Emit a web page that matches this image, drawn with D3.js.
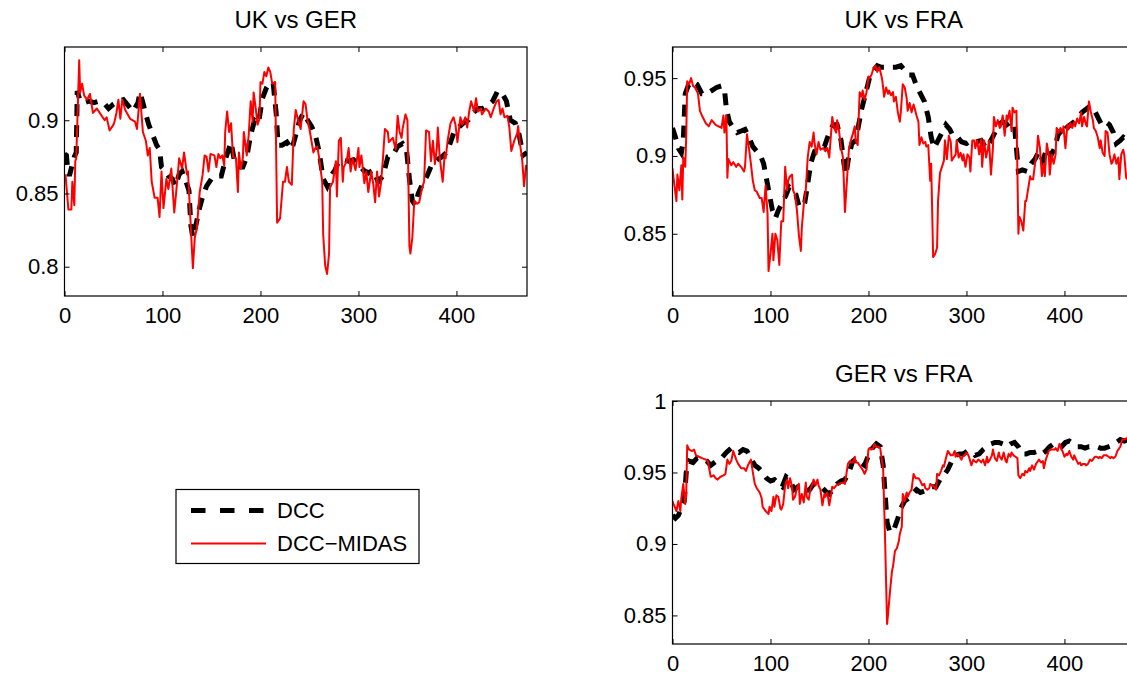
<!DOCTYPE html>
<html>
<head>
<meta charset="utf-8">
<script src="https://cdn.jsdelivr.net/npm/d3@7"></script>
<style>
  body { margin: 0; background: #fff; }
  svg { display: block; font-family: "Liberation Sans", Arial, Helvetica, sans-serif; }
</style>
</head>
<body>
<svg id="chart"></svg>
<script>
const xTicks = [0, 100, 200, 300, 400];
const xRange = [0, 472];

const ukGerRange = [0.78, 0.95];
const ukGerTicks = [0.8, 0.85, 0.9];
const ukGerDcc = [[0,.877],[2,.876],[3,.868],[5,.862],[8,.87],[10,.875],[12,.878],[13,.92],[16,.913],[20,.912],[25,.913],[30,.912],[35,.913],[40,.912],[45,.908],[50,.911],[55,.913],[60,.914],[65,.91],[70,.906],[75,.912],[77,.919],[80,.912],[83,.904],[86,.897],[90,.89],[94,.883],[97,.88],[99,.868],[102,.866],[106,.862],[110,.86],[113,.855],[117,.863],[120,.865],[124,.858],[127,.852],[129,.828],[131,.82],[134,.828],[137,.838],[141,.848],[145,.855],[150,.86],[155,.862],[160,.862],[165,.875],[170,.885],[174,.87],[178,.868],[182,.868],[186,.875],[190,.89],[194,.9],[198,.898],[202,.915],[206,.922],[210,.926],[213,.925],[216,.905],[218,.883],[222,.883],[227,.885],[232,.88],[236,.89],[240,.9],[244,.905],[248,.9],[252,.896],[256,.89],[260,.878],[264,.86],[268,.855],[272,.862],[276,.866],[280,.872],[285,.873],[290,.872],[295,.873],[300,.87],[305,.866],[310,.864],[315,.866],[320,.858],[325,.862],[330,.875],[335,.876],[340,.882],[345,.884],[349,.88],[352,.86],[355,.845],[358,.842],[361,.85],[365,.856],[370,.862],[375,.87],[380,.873],[385,.875],[390,.878],[394,.885],[398,.893],[402,.895],[407,.898],[412,.9],[417,.905],[422,.908],[427,.908],[432,.91],[437,.913],[442,.92],[447,.918],[451,.913],[455,.9],[460,.898],[464,.89],[468,.876],[472,.878]];
const ukGerMidas = [[1,.863],[4,.839],[7,.839],[8,.858],[10,.842],[11,.872],[12,.874],[15,.941],[16,.919],[18,.925],[20,.917],[23,.914],[26,.918],[29,.905],[33,.908],[38,.903],[41,.9],[43,.902],[46,.893],[50,.897],[51,.899],[53,.905],[55,.914],[57,.901],[59,.914],[62,.907],[67,.901],[72,.899],[74,.894],[77,.918],[80,.892],[83,.886],[85,.876],[87,.881],[89,.858],[92,.847],[95,.847],[97,.834],[99,.865],[101,.84],[104,.86],[106,.853],[109,.867],[112,.837],[114,.851],[117,.874],[120,.867],[122,.878],[125,.863],[126,.865],[129,.826],[131,.799],[133,.82],[135,.826],[138,.851],[141,.863],[143,.876],[145,.875],[147,.865],[149,.877],[153,.876],[155,.868],[157,.877],[159,.874],[161,.876],[163,.869],[164,.892],[166,.906],[168,.892],[170,.898],[172,.875],[175,.874],[177,.851],[178,.878],[180,.867],[182,.874],[183,.892],[186,.876],[188,.89],[190,.913],[192,.899],[193,.919],[195,.909],[197,.897],[199,.901],[200,.926],[202,.925],[204,.933],[206,.93],[208,.936],[210,.933],[212,.925],[215,.926],[217,.83],[220,.833],[223,.858],[225,.858],[227,.868],[229,.858],[232,.856],[234,.894],[236,.907],[238,.901],[241,.894],[244,.913],[246,.911],[248,.9],[250,.894],[252,.886],[254,.878],[256,.881],[258,.882],[260,.874],[263,.858],[264,.822],[266,.801],[268,.795],[270,.809],[271,.854],[274,.858],[277,.872],[278,.848],[280,.886],[282,.888],[284,.858],[285,.868],[288,.872],[290,.881],[292,.865],[294,.874],[297,.866],[300,.881],[301,.868],[303,.876],[306,.857],[308,.865],[310,.851],[313,.865],[315,.857],[317,.844],[319,.865],[321,.848],[323,.857],[325,.874],[327,.894],[330,.892],[331,.885],[335,.888],[338,.88],[340,.903],[342,.892],[344,.888],[345,.894],[348,.904],[350,.9],[352,.814],[353,.809],[355,.82],[357,.845],[360,.843],[362,.844],[365,.854],[367,.858],[369,.893],[372,.892],[374,.872],[376,.886],[378,.87],[380,.881],[381,.895],[383,.874],[386,.858],[388,.877],[389,.874],[391,.886],[394,.898],[397,.902],[399,.897],[401,.885],[404,.902],[406,.897],[409,.902],[411,.895],[413,.906],[415,.913],[418,.906],[420,.915],[422,.906],[425,.908],[426,.904],[430,.908],[433,.906],[435,.902],[438,.908],[441,.913],[443,.914],[445,.904],[447,.908],[449,.902],[452,.903],[454,.895],[456,.879],[459,.886],[462,.891],[463,.896],[465,.883],[467,.874],[469,.855],[471,.869],[472,.866]];

const ukFraRange = [0.81, 0.97];
const ukFraTicks = [0.85, 0.9, 0.95];
const ukFraDcc = [[0,.918],[3,.912],[6,.905],[9,.902],[11,.91],[13,.94],[16,.945],[20,.948],[25,.946],[30,.94],[35,.94],[40,.942],[45,.944],[50,.945],[53,.943],[55,.93],[58,.922],[62,.918],[66,.915],[70,.916],[74,.917],[78,.912],[82,.906],[86,.903],[90,.9],[93,.895],[96,.885],[99,.875],[102,.865],[105,.86],[108,.865],[112,.87],[116,.875],[119,.88],[123,.877],[126,.875],[129,.868],[132,.867],[135,.87],[138,.882],[141,.895],[145,.903],[150,.905],[155,.906],[160,.915],[164,.92],[168,.92],[172,.91],[175,.895],[177,.888],[180,.9],[183,.908],[187,.91],[190,.92],[193,.93],[197,.94],[201,.95],[205,.955],[209,.958],[213,.957],[218,.957],[223,.957],[228,.957],[233,.958],[237,.955],[241,.952],[245,.952],[249,.945],[253,.94],[257,.935],[261,.925],[264,.912],[267,.905],[271,.91],[275,.915],[279,.92],[283,.917],[287,.912],[291,.912],[295,.909],[300,.908],[305,.91],[310,.909],[315,.91],[320,.905],[325,.91],[329,.915],[333,.92],[337,.922],[341,.92],[345,.922],[349,.92],[351,.905],[353,.89],[357,.891],[362,.89],[366,.895],[370,.898],[374,.903],[378,.897],[382,.905],[386,.9],[390,.905],[394,.915],[398,.913],[402,.918],[406,.92],[410,.922],[414,.925],[418,.928],[422,.93],[426,.932],[430,.93],[434,.925],[438,.92],[442,.922],[446,.92],[450,.915],[453,.908],[457,.91],[460,.912],[464,.91],[468,.905],[472,.905]];
const ukFraMidas = [[0,.892],[1,.886],[4,.871],[5,.888],[7,.878],[9,.894],[10,.872],[11,.899],[13,.893],[14,.912],[15,.948],[17,.946],[19,.95],[21,.945],[23,.944],[26,.94],[28,.929],[30,.926],[34,.921],[37,.919],[40,.923],[44,.92],[47,.919],[50,.918],[52,.926],[53,.915],[55,.926],[56,.886],[57,.898],[60,.894],[62,.896],[65,.893],[67,.895],[70,.893],[73,.89],[74,.893],[76,.914],[78,.905],[80,.895],[82,.884],[84,.878],[86,.877],[89,.873],[91,.873],[93,.864],[95,.881],[97,.863],[98,.826],[100,.837],[102,.85],[103,.833],[105,.85],[107,.846],[109,.83],[111,.858],[113,.858],[115,.893],[117,.878],[118,.884],[120,.887],[122,.888],[123,.878],[125,.875],[127,.865],[129,.849],[131,.839],[132,.854],[134,.869],[136,.878],[138,.899],[140,.909],[142,.906],[144,.915],[145,.908],[147,.901],[149,.909],[151,.904],[154,.905],[156,.903],[158,.905],[160,.899],[162,.916],[163,.925],[165,.918],[167,.915],[168,.923],[170,.916],[172,.905],[174,.899],[176,.864],[178,.884],[180,.904],[182,.91],[184,.914],[186,.919],[187,.91],[189,.907],[191,.941],[193,.938],[194,.942],[196,.936],[198,.941],[200,.951],[201,.95],[203,.952],[205,.956],[207,.958],[209,.954],[211,.957],[213,.952],[214,.949],[216,.938],[218,.944],[220,.94],[221,.942],[223,.939],[225,.941],[226,.935],[228,.938],[230,.928],[232,.922],[233,.928],[235,.946],[237,.944],[239,.937],[240,.929],[242,.934],[244,.928],[246,.933],[247,.931],[249,.926],[251,.922],[252,.907],[254,.912],[256,.908],[258,.909],[259,.906],[261,.907],[263,.884],[264,.895],[266,.835],[268,.837],[270,.841],[271,.871],[273,.889],[275,.893],[277,.897],[278,.91],[280,.898],[282,.913],[284,.909],[285,.897],[287,.899],[289,.901],[290,.91],[292,.899],[294,.902],[296,.897],[297,.901],[299,.893],[301,.901],[303,.899],[304,.89],[306,.91],[308,.91],[309,.905],[311,.91],[313,.901],[315,.911],[316,.893],[318,.91],[320,.899],[322,.905],[323,.91],[325,.888],[327,.905],[328,.925],[330,.919],[332,.923],[334,.918],[335,.919],[337,.926],[339,.913],[341,.926],[342,.923],[344,.929],[346,.916],[347,.931],[349,.928],[351,.929],[353,.85],[354,.861],[356,.858],[358,.852],[360,.871],[361,.871],[363,.879],[365,.887],[366,.885],[368,.885],[370,.895],[372,.903],[373,.913],[375,.905],[377,.887],[379,.895],[380,.887],[382,.908],[384,.901],[385,.888],[387,.901],[389,.895],[391,.901],[392,.918],[394,.915],[396,.918],[398,.915],[399,.919],[401,.905],[403,.92],[404,.917],[406,.921],[408,.918],[410,.922],[411,.919],[413,.924],[415,.921],[417,.928],[418,.919],[420,.925],[422,.92],[423,.919],[425,.935],[427,.928],[429,.923],[430,.918],[432,.916],[434,.912],[436,.905],[437,.91],[439,.902],[441,.9],[442,.916],[444,.915],[446,.901],[448,.895],[449,.896],[451,.901],[453,.895],[455,.899],[456,.885],[458,.901],[460,.904],[461,.901],[463,.886],[466,.884],[470,.89],[472,.892]];

const gerFraRange = [0.83, 1];
const gerFraTicks = [0.85, 0.9, 0.95, 1];
const gerFraDcc = [[0,.92],[3,.918],[6,.92],[9,.925],[12,.93],[14,.95],[17,.958],[21,.957],[25,.96],[30,.96],[35,.958],[39,.955],[45,.958],[50,.96],[55,.964],[60,.967],[64,.965],[68,.964],[72,.966],[76,.965],[80,.96],[84,.955],[88,.953],[92,.95],[96,.946],[100,.944],[104,.945],[108,.942],[112,.94],[116,.947],[120,.945],[124,.938],[128,.94],[132,.94],[136,.937],[140,.938],[144,.942],[148,.942],[152,.94],[156,.937],[160,.935],[164,.938],[168,.942],[172,.944],[176,.945],[180,.95],[184,.958],[188,.96],[192,.957],[196,.955],[200,.962],[204,.967],[208,.97],[212,.968],[215,.955],[217,.935],[219,.915],[222,.908],[226,.91],[230,.918],[233,.925],[237,.93],[241,.932],[245,.935],[249,.938],[253,.936],[257,.937],[261,.938],[265,.94],[269,.94],[273,.945],[277,.948],[281,.952],[285,.958],[289,.962],[293,.963],[297,.963],[301,.965],[305,.965],[309,.962],[313,.963],[317,.966],[321,.968],[325,.97],[329,.971],[333,.971],[337,.97],[341,.968],[345,.97],[349,.971],[353,.968],[357,.963],[361,.963],[365,.964],[369,.964],[373,.965],[377,.963],[381,.965],[385,.968],[389,.97],[393,.969],[397,.968],[401,.971],[405,.972],[409,.97],[413,.968],[417,.968],[421,.967],[425,.968],[429,.968],[433,.968],[437,.967],[441,.967],[445,.968],[449,.969],[453,.971],[457,.973],[461,.972],[465,.973],[472,.973]];
const gerFraMidas = [[0,.93],[1,.928],[4,.923],[6,.93],[8,.923],[9,.932],[11,.942],[13,.928],[14,.935],[15,.969],[17,.966],[20,.965],[22,.966],[24,.962],[27,.961],[30,.96],[34,.959],[36,.958],[39,.947],[42,.948],[44,.946],[46,.945],[49,.947],[52,.948],[54,.949],[56,.959],[58,.956],[60,.958],[62,.965],[65,.959],[67,.956],[70,.953],[73,.953],[75,.951],[77,.955],[80,.959],[82,.95],[84,.942],[86,.939],[89,.936],[91,.932],[92,.926],[95,.923],[98,.921],[99,.926],[101,.923],[103,.933],[104,.926],[106,.934],[108,.933],[110,.925],[111,.924],[113,.928],[115,.941],[117,.945],[118,.939],[120,.946],[122,.94],[123,.931],[125,.933],[127,.939],[129,.942],[130,.928],[132,.935],[134,.929],[136,.943],[137,.933],[139,.931],[141,.939],[142,.94],[144,.945],[146,.941],[148,.945],[149,.941],[151,.938],[153,.927],[155,.935],[156,.933],[158,.936],[160,.927],[162,.935],[163,.94],[165,.939],[167,.941],[170,.942],[174,.943],[176,.942],[179,.956],[181,.958],[182,.957],[184,.957],[186,.961],[187,.957],[189,.957],[191,.955],[193,.953],[194,.952],[196,.949],[198,.952],[200,.966],[201,.967],[203,.966],[205,.967],[206,.97],[208,.968],[210,.968],[212,.967],[213,.962],[215,.952],[217,.902],[219,.844],[220,.851],[222,.867],[224,.881],[225,.884],[227,.895],[229,.897],[231,.902],[232,.907],[234,.912],[235,.935],[237,.93],[239,.936],[240,.933],[242,.936],[244,.938],[246,.949],[248,.946],[250,.946],[251,.946],[253,.944],[255,.941],[257,.942],[258,.939],[260,.938],[262,.939],[263,.942],[265,.941],[267,.94],[269,.938],[270,.949],[272,.948],[274,.951],[276,.955],[277,.954],[279,.96],[281,.965],[283,.963],[284,.962],[286,.962],[288,.965],[289,.961],[291,.963],[293,.961],[295,.959],[296,.961],[298,.962],[300,.964],[302,.962],[303,.96],[305,.955],[307,.959],[308,.958],[310,.957],[312,.959],[314,.958],[315,.957],[317,.959],[319,.955],[321,.961],[322,.957],[324,.959],[326,.962],[327,.966],[329,.96],[331,.958],[333,.964],[334,.961],[336,.959],[338,.964],[340,.958],[341,.957],[343,.963],[345,.961],[346,.964],[348,.962],[350,.961],[352,.96],[353,.948],[355,.946],[357,.949],[359,.948],[360,.951],[362,.95],[364,.953],[365,.951],[367,.955],[369,.952],[371,.956],[372,.957],[374,.959],[376,.957],[378,.958],[379,.953],[381,.959],[383,.963],[384,.965],[386,.966],[388,.966],[390,.966],[391,.967],[393,.965],[395,.97],[397,.966],[398,.965],[400,.961],[402,.963],[403,.962],[405,.965],[407,.961],[409,.959],[410,.962],[412,.959],[414,.956],[416,.957],[417,.955],[419,.956],[421,.956],[422,.955],[424,.956],[426,.959],[428,.958],[429,.959],[431,.961],[433,.961],[435,.96],[436,.961],[438,.96],[440,.962],[442,.962],[443,.962],[445,.961],[447,.96],[448,.961],[450,.96],[452,.961],[454,.965],[455,.966],[457,.968],[459,.973],[461,.973],[464,.974],[472,.974]];

const legendLabels = ["DCC", "DCC\u2212MIDAS"];

const width = 1127, height = 676;
const svg = d3.select("#chart").attr("width", width).attr("height", height);

const panels = [
  { title: "UK vs GER", dcc: ukGerDcc, midas: ukGerMidas, range: ukGerRange, ticks: ukGerTicks,
    left: 64.5, top: 47, w: 462.5, h: 249 },
  { title: "UK vs FRA", dcc: ukFraDcc, midas: ukFraMidas, range: ukFraRange, ticks: ukFraTicks,
    left: 672.5, top: 47, w: 462.5, h: 249 },
  { title: "GER vs FRA", dcc: gerFraDcc, midas: gerFraMidas, range: gerFraRange, ticks: gerFraTicks,
    left: 672.5, top: 401, w: 462.5, h: 243 }
];

const dccStyle = { stroke: "#000", width: 5, dash: "12,9" };
const midasStyle = { stroke: "#ff0000", width: 2 };

panels.forEach((p, i) => drawPanel(p, i));
drawLegend();

function drawPanel(p, i) {
  const g = svg.append("g").attr("transform", `translate(${p.left},${p.top})`);

  const x = d3.scaleLinear().domain(xRange).range([0, p.w]);
  const y = d3.scaleLinear().domain(p.range).range([p.h, 0]);

  g.append("clipPath").attr("id", "clip" + i)
    .append("rect").attr("width", p.w).attr("height", p.h);

  const line = d3.line().x(d => x(d[0])).y(d => y(d[1]));

  const plot = g.append("g").attr("clip-path", `url(#clip${i})`);

  plot.append("path")
    .datum(p.dcc)
    .attr("fill", "none")
    .attr("stroke", dccStyle.stroke)
    .attr("stroke-width", dccStyle.width)
    .attr("stroke-dasharray", dccStyle.dash)
    .attr("d", line);

  plot.append("path")
    .datum(p.midas)
    .attr("fill", "none")
    .attr("stroke", midasStyle.stroke)
    .attr("stroke-width", midasStyle.width)
    .attr("stroke-linejoin", "round")
    .attr("d", line);

  // matlab-style box: inward ticks on all four sides
  const tick = 5;
  const fmt = d3.format("~g");

  g.append("g")
    .attr("transform", `translate(0,${p.h})`)
    .call(d3.axisBottom(x).tickValues(xTicks).tickSize(-tick).tickPadding(11).tickFormat(fmt));
  g.append("g")
    .call(d3.axisTop(x).tickValues(xTicks).tickSize(-tick).tickFormat(""));
  g.append("g")
    .call(d3.axisLeft(y).tickValues(p.ticks).tickSize(-tick).tickPadding(6).tickFormat(fmt));
  g.append("g")
    .attr("transform", `translate(${p.w},0)`)
    .call(d3.axisRight(y).tickValues(p.ticks).tickSize(-tick).tickFormat(""));

  g.selectAll(".domain").remove();
  g.selectAll(".tick line").attr("stroke", "#000");
  g.selectAll(".tick text")
    .attr("fill", "#000")
    .style("font-size", "22px")
    .style("font-family", "'Liberation Sans', Arial, sans-serif");

  g.append("rect")
    .attr("width", p.w).attr("height", p.h)
    .attr("fill", "none").attr("stroke", "#000").attr("stroke-width", 1.2);

  g.append("text")
    .attr("x", p.w / 2)
    .attr("y", -19)
    .attr("text-anchor", "middle")
    .style("font-size", "24px")
    .text(p.title);
}

function drawLegend() {
  const lg = svg.append("g").attr("transform", "translate(176,489.5)");

  lg.append("rect")
    .attr("width", 243).attr("height", 74)
    .attr("fill", "#fff").attr("stroke", "#000").attr("stroke-width", 1.2);

  const rows = [
    { label: legendLabels[0], style: dccStyle, dash: "14.5,14.5", y: 21 },
    { label: legendLabels[1], style: midasStyle, dash: null, y: 54 }
  ];

  rows.forEach(r => {
    lg.append("line")
      .attr("x1", 15).attr("x2", 90)
      .attr("y1", r.y).attr("y2", r.y)
      .attr("stroke", r.style.stroke)
      .attr("stroke-width", r.style.width)
      .attr("stroke-dasharray", r.dash);
    lg.append("text")
      .attr("x", 101)
      .attr("y", r.y)
      .attr("dy", "0.35em")
      .style("font-size", "22px")
      .text(r.label);
  });
}
</script>
</body>
</html>
